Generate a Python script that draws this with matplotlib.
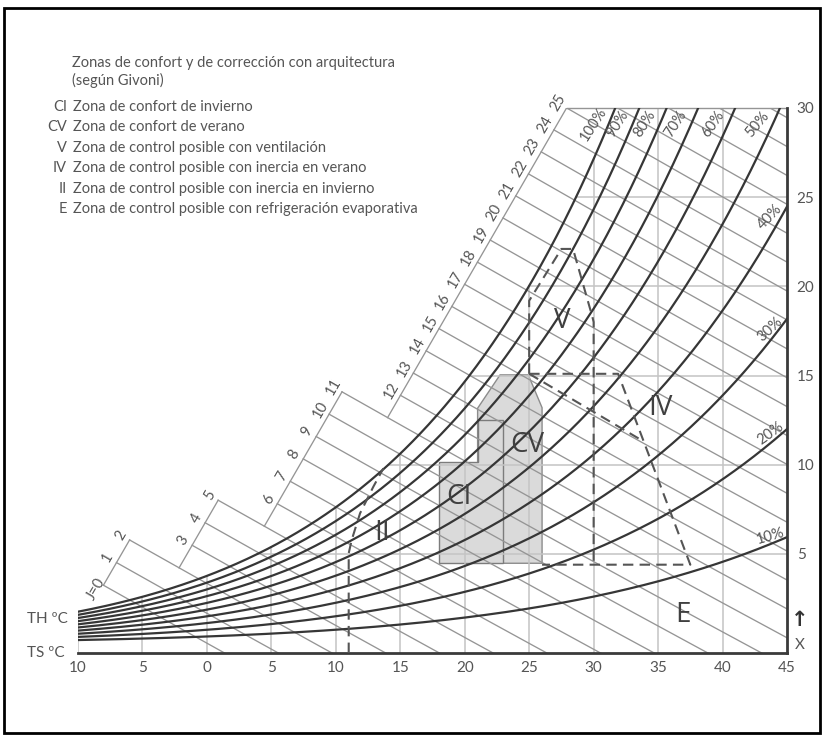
import numpy as np
import matplotlib
matplotlib.use("Agg")
import matplotlib.pyplot as plt
from matplotlib.patches import Polygon, Rectangle

plt.rcParams['font.family'] = ['Lato', 'DejaVu Sans']

# ---------------- data ----------------
rh_levels = [10, 20, 30, 40, 50, 60, 70, 80, 90, 100]          # % relative humidity curves
enthalpy_levels = list(range(0, 30))                            # kcal/kg lines
enthalpy_labels = list(range(0, 26))                            # labelled lines
# label groups: (first line, last line, boundary point (T, x) at end of last line)
enthalpy_groups = [(0, 2, (-5.73, 6.12)), (3, 5, (1.02, 8.20)),
                   (6, 11, (10.56, 14.19)), (12, 25, (27.9, 30.0))]
boundary_slope = 1.25                                            # g/kg per K

t_ticks = [-10, -5, 0, 5, 10, 15, 20, 25, 30, 35, 40, 45]
t_tick_labels = ['10', '5', '0', '5', '10', '15', '20', '25', '30', '35', '40', '45']
x_ticks = [5, 10, 15, 20, 25, 30]
x_tick_labels = ['5', '10', '15', '20', '25', '30']

# comfort / control zones (T in degC, x in g/kg)
ci_T = [18, 18, 21, 21, 23, 23]
ci_x = [4.48, 10.17, 10.17, 12.5, 12.5, 4.48]
cv_T = [21, 21, 22.74, 24.93, 26, 26]
cv_x = [4.48, 13.17, 15.04, 15.04, 13.2, 4.48]
v_T = [25, 25, 27.5, 28.4, 29.9, 30, 30]
v_x = [15.1, 19.2, 22.1, 22.1, 18.3, 18.0, 4.4]
iv_T = [25, 31.9, 37.5, 26.0]
iv_x = [15.1, 15.1, 4.4, 4.4]
iv_diag_T = [25, 33.9]
iv_diag_x = [15.1, 11.3]
ii_T = [11, 11, 11.23, 11.88, 12.91, 13.69]
ii_x = [-0.55, 5.04, 5.78, 7.28, 8.77, 9.8]

zone_names = ['CI', 'CV', 'V', 'IV', 'II', 'E']
zone_label_T = [19.56, 24.83, 27.55, 35.15, 13.58, 36.93]
zone_label_x = [8.19, 11.11, 18.06, 13.18, 6.18, 1.58]

legend_codes = ['CI', 'CV', 'V', 'IV', 'II', 'E']
legend_texts = ['Zona de confort de invierno',
                'Zona de confort de verano',
                'Zona de control posible con ventilación',
                'Zona de control posible con inercia en verano',
                'Zona de control posible con inercia en invierno',
                'Zona de control posible con refrigeración evaporativa']
title_lines = ['Zonas de confort y de corrección con arquitectura', '(según Givoni)']

# ---------------- psychrometrics ----------------
P = 101.325


def psat(T):
    return 0.61094 * np.exp(17.625 * T / (T + 243.04))


def x_rh(T, phi):
    pv = phi * psat(T)
    return 622.0 * pv / (P - pv)


def t_of_pv(pv):
    a = np.log(pv / 0.61094)
    return 243.04 * a / (17.625 - a)


def t_rh_of_x(x, phi):
    pv = x * P / (622.0 + x)
    return t_of_pv(pv / phi)


def x_enth(T, n):
    h = 4.1868 * n
    return 1000.0 * (h - 1.006 * T) / (2501.0 + 1.86 * T)


def t_of_enth_x(n, x):
    h = 4.1868 * n
    return (h - x * 2.501) / (1.006 + x * 0.00186)


def boundary_hit(n, anchor):
    Ta, xa = anchor
    Tg = np.linspace(-15, 50, 20001)
    f = x_enth(Tg, n) - (xa + boundary_slope * (Tg - Ta))
    i = np.argmin(np.abs(f))
    return Tg[i], x_enth(Tg[i], n)


# ---------------- figure ----------------
W, H = 826, 738
fig = plt.figure(figsize=(W / 100, H / 100), dpi=100)
fig.patch.set_facecolor('white')
T0, T1 = -10, 45
Y0, Y1 = -0.55, 30
ax = fig.add_axes([78 / W, 1 - 653 / H, (787 - 78) / W, (653 - 108) / H])
ax.set_xlim(T0, T1)
ax.set_ylim(Y0, Y1)
for s in ['top', 'left']:
    ax.spines[s].set_visible(False)
for s in ['bottom', 'right']:
    ax.spines[s].set_linewidth(2.0)
    ax.spines[s].set_color('#3a3a3a')
ax.set_xticks(t_ticks)
ax.set_xticklabels(t_tick_labels)
ax.set_yticks(x_ticks)
ax.set_yticklabels(x_tick_labels)
ax.yaxis.tick_right()
ax.tick_params(length=0, labelsize=11, colors='#555555', pad=6)
ax.tick_params(axis='y', pad=7)
ax.patch.set_alpha(0)

grid_c = '#c4c4c4'
enth_c = '#959595'
rh_c = '#363636'
dash_c = '#555555'

# vertical grid lines up to saturation
for t in t_ticks[:-1]:
    ax.plot([t, t], [Y0, x_rh(t, 1.0)], color=grid_c, lw=1.1, zorder=1)
# horizontal grid lines from saturation
for xv in x_ticks[:-1]:
    ax.plot([t_rh_of_x(xv, 1.0), T1], [xv, xv], color=grid_c, lw=1.1, zorder=1)

# shaded comfort zones
fill_c = '#dadada'
ax.add_patch(Polygon(list(zip(cv_T, cv_x)), closed=True, facecolor=fill_c,
                     edgecolor='#8c8c8c', lw=1.0, zorder=0.5))
ax.add_patch(Polygon(list(zip(ci_T, ci_x)), closed=True, facecolor=fill_c,
                     edgecolor='#7c7c7c', lw=1.0, zorder=0.6))

# enthalpy lines with stepped label boundary
starts = {}
for first, last, anchor in enthalpy_groups:
    for n in range(first, last + 1):
        starts[n] = boundary_hit(n, anchor)
for n in enthalpy_levels:
    if n not in starts:
        starts[n] = (t_of_enth_x(n, Y1), Y1)
for n in enthalpy_levels:
    ts = starts[n][0]
    tt = np.linspace(ts, T1, 200)
    ax.plot(tt, x_enth(tt, n), color=enth_c, lw=0.95, zorder=2)
# boundary segments
prev_last = None
for first, last, anchor in enthalpy_groups:
    if prev_last is None:
        p0 = starts[first]
    else:
        p0 = boundary_hit(prev_last, anchor)
    p1 = starts[last]
    ax.plot([p0[0], p1[0]], [p0[1], p1[1]], color=enth_c, lw=0.95, zorder=2)
    prev_last = last
# top border line
ax.plot([starts[25][0], T1], [Y1, Y1], color=enth_c, lw=1.0, zorder=2, clip_on=False)

# enthalpy labels
ang = np.degrees(np.arctan2(boundary_slope * 545 / 30.55, 709 / 55.0))
for n in enthalpy_labels:
    T, x = starts[n]
    if n == 0:
        ax.annotate('J=0', (T, x), xytext=(3, 2), textcoords='offset points',
                    rotation=ang, rotation_mode='anchor', ha='right', va='bottom',
                    fontsize=10.5, color='#555555', annotation_clip=False)
    else:
        ax.annotate(str(n), (T, x), xytext=(-2, 1), textcoords='offset points',
                    rotation=ang, rotation_mode='anchor', ha='center', va='bottom',
                    fontsize=10.5, color='#555555', annotation_clip=False)

# relative humidity curves
tt = np.linspace(T0, T1, 800)
for r in rh_levels:
    ax.plot(tt, x_rh(tt, r / 100.0), color=rh_c, lw=1.6, zorder=3)

# RH labels
top_rot = {100: 57, 90: 57, 80: 57, 70: 57, 60: 55, 50: 50}
for r in [100, 90, 80, 70, 60, 50]:
    xv = 29.1
    tv = t_rh_of_x(xv, r / 100.0)
    ax.annotate(f'{r}%', (tv, xv), xytext=(-11, 0), textcoords='offset points',
                rotation=top_rot[r], ha='center', va='center', fontsize=10.5,
                color='#555555', annotation_clip=False)
side_rot = {40: 46, 30: 43, 20: 36, 10: 16}
side_dy = {40: 14, 30: 8, 20: 7, 10: 6}
for r in [40, 30, 20, 10]:
    tv = 43.7
    ax.annotate(f'{r}%', (tv, x_rh(tv, r / 100.0)), xytext=(0, side_dy[r]),
                textcoords='offset points', rotation=side_rot[r], ha='center',
                va='center', fontsize=10.5, color='#555555', annotation_clip=False)

# dashed zone boundaries
dkw = dict(color=dash_c, lw=1.5, ls=(0, (5, 3)), zorder=4)
ax.plot(v_T, v_x, **dkw)
ax.plot(iv_T, iv_x, **dkw)
ax.plot(iv_diag_T, iv_diag_x, **dkw)
ax.plot(ii_T, ii_x, **dkw)

# zone labels
for name, t, x in zip(zone_names, zone_label_T, zone_label_x):
    ax.text(t, x, name, fontsize=20, color='#404040', ha='center', va='center',
            family=['Open Sans', 'DejaVu Sans'], fontweight='normal', zorder=5)

# axis side labels
fig.text(27 / W, 1 - 619 / H, 'TH ºC', fontsize=11, color='#555555', va='center', ha='left')
fig.text(27 / W, 1 - 653 / H, 'TS ºC', fontsize=11, color='#555555', va='center', ha='left')
fig.text(800 / W, 1 - 620 / H, '↑', fontsize=15, color='#333333', va='center', ha='center',
         family=['DejaVu Sans'], fontweight='bold')
fig.text(800 / W, 1 - 645 / H, 'X', fontsize=11, color='#555555', va='center', ha='center')

# title and legend
fig.text(72 / W, 1 - 63 / H, title_lines[0], fontsize=10.5, color='#555555', va='center')
fig.text(72 / W, 1 - 80 / H, title_lines[1], fontsize=10.5, color='#555555', va='center')
for i, (c, t) in enumerate(zip(legend_codes, legend_texts)):
    y = 107 + i * 20.4
    fig.text(67 / W, 1 - y / H, c, fontsize=10.5, color='#555555', va='center', ha='right')
    fig.text(73 / W, 1 - y / H, t, fontsize=10.5, color='#555555', va='center', ha='left')

# outer frame
fig.patches.append(Rectangle((4 / W, 1 - 733 / H), (820 - 4) / W, (733 - 8) / H,
                             transform=fig.transFigure, fill=False, edgecolor='black',
                             lw=2.0))

fig.savefig('out.png', dpi=100)
